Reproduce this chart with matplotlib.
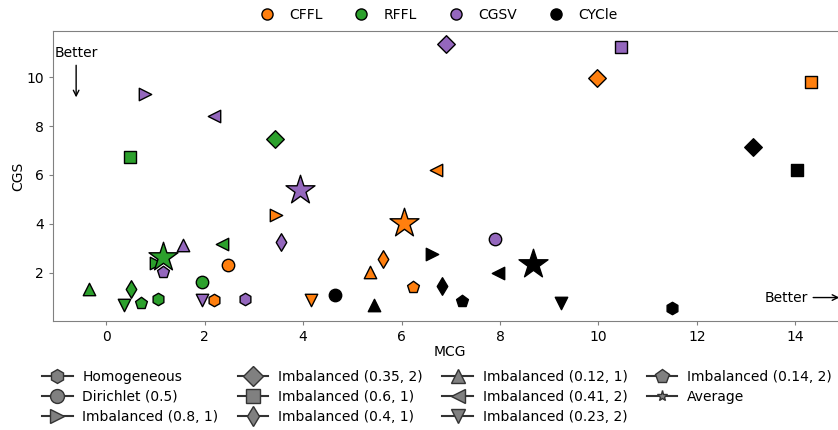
import numpy as np
import matplotlib.pyplot as plt
from matplotlib.lines import Line2D

#Methods and their colours
methods = ['CFFL', 'RFFL', 'CGSV', 'CYCle']
colors = ['tab:orange', 'tab:green', 'tab:purple', 'black']

#Data splits (last one is the average over the splits)
splits = ['Homogeneous', 'Dirichlet (0.5)', 'Imbalanced (0.8, 1)', 'Imbalanced (0.35, 2)',
          'Imbalanced (0.6, 1)', 'Imbalanced (0.4, 1)', 'Imbalanced (0.12, 1)', 'Imbalanced (0.41, 2)',
          'Imbalanced (0.23, 2)', 'Imbalanced (0.14, 2)', 'Average']
markers = ['h', 'o', '>', 'D', 's', 'd', '^', '<', 'v', 'p', '*']

#MCG (x) and CGS (y) per method, in the order of the splits
cffl_mcg = [2.20, 2.48, 3.46, 9.98, 14.32, 5.62, 5.35, 6.71, 4.17, 6.23, 6.06]
cffl_cgs = [0.86, 2.33, 4.37, 9.95, 9.81, 2.57, 2.03, 6.20, 0.86, 1.41, 4.04]
rffl_mcg = [1.06, 1.95, 1.02, 3.43, 0.49, 0.51, -0.35, 2.36, 0.37, 0.70, 1.16]
rffl_cgs = [0.93, 1.61, 2.40, 7.47, 6.75, 1.33, 1.33, 3.17, 0.67, 0.76, 2.64]
cgsv_mcg = [2.83, 7.89, 0.78, 6.91, 10.46, 3.55, 1.56, 2.20, 1.94, 1.15, 3.93]
cgsv_cgs = [0.93, 3.39, 9.33, 11.35, 11.24, 3.24, 3.13, 8.42, 0.86, 2.04, 5.39]
cycle_mcg = [11.50, 4.64, 6.61, 13.15, 14.04, 6.83, 5.44, 7.96, 9.25, 7.22, 8.67]
cycle_cgs = [0.56, 1.07, 2.76, 7.13, 6.22, 1.44, 0.69, 1.99, 0.76, 0.83, 2.37]

all_mcg = [cffl_mcg, rffl_mcg, cgsv_mcg, cycle_mcg]
all_cgs = [cffl_cgs, rffl_cgs, cgsv_cgs, cycle_cgs]

plt.rcParams['font.size'] = 10

fig = plt.figure(figsize=(8.38, 4.3), dpi=100)
ax = fig.add_axes([53 / 838, 1 - 321 / 430, 794 / 838, 290 / 430])

#Scatter every (method, split) pair
for mcg, cgs, col in zip(all_mcg, all_cgs, colors):
    for i, m in enumerate(markers):
        size = 480 if m == '*' else 80
        ax.scatter(mcg[i], cgs[i], marker=m, s=size, color=col, edgecolor='black', linewidth=1, zorder=3)

ax.set_xlim(-1.08, 15.05)
ax.set_ylim(0.02, 11.89)
ax.set_xlabel('MCG', labelpad=1)
ax.set_ylabel('CGS', labelpad=1)
ax.tick_params(color='grey', length=3)
for sp in ax.spines.values():
    sp.set_color('grey')

#Better arrows
ax.annotate('Better', xy=(-0.61, 9.06), xytext=(-0.61, 11.0), ha='center', va='center',
            arrowprops=dict(arrowstyle='->', color='black'))
ax.annotate('Better', xy=(14.95, 0.98), xytext=(14.25, 0.98), ha='right', va='center',
            arrowprops=dict(arrowstyle='->', color='black'))

#Top legend with the methods
method_handles = [Line2D([], [], marker='o', linestyle='', markersize=8, markerfacecolor=c,
                         markeredgecolor='black') for c in colors]
fig.legend(method_handles, methods, loc='center', bbox_to_anchor=(435 / 838, 1 - 15 / 430),
           ncol=4, frameon=False, columnspacing=1.8, handletextpad=0.6)

#Bottom legend with the splits
split_handles = [Line2D([], [], marker=m, color='#333333', markersize=10 if m != '*' else 8,
                        markerfacecolor='grey', markeredgecolor='#333333') for m in markers]
fig.legend(split_handles, splits, loc='upper center', bbox_to_anchor=(437 / 838, 1 - 360 / 430),
           ncol=4, frameon=False, handlelength=2.2, columnspacing=1.4,
           labelspacing=0.45, borderpad=0.2, handletextpad=0.7)

fig.savefig('out.png', dpi=100)
